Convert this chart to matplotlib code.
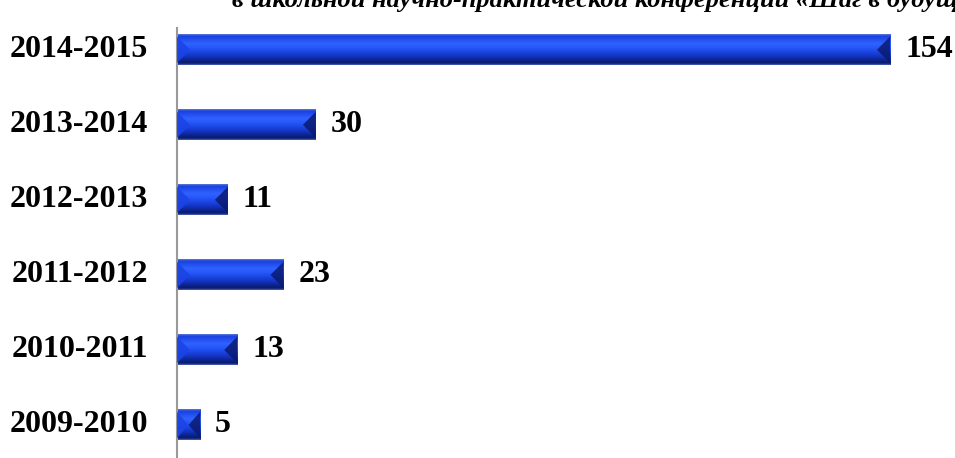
import numpy as np
import matplotlib.pyplot as plt
from matplotlib.colors import LinearSegmentedColormap
from matplotlib.patches import Polygon

years = ['2009-2010', '2010-2011', '2011-2012', '2012-2013', '2013-2014', '2014-2015']
counts = [5, 13, 23, 11, 30, 154]
title = 'в школьной научно-практической конференции «Шаг в будущее»'

plt.rcParams['font.family'] = ['Liberation Serif', 'DejaVu Serif']

fig = plt.figure(figsize=(9.55, 4.58), dpi=100)
W, H = 955, 458
ax = fig.add_axes([177 / W, 0, 1 - 177 / W, 430 / H])
px_per_unit = 713 / 154
ax.set_xlim(0, (W - 177) / px_per_unit)
ax.set_ylim(-0.44, 5.29)

bar_h = 0.41
# vertical shading of the bar face, top to bottom
shade = LinearSegmentedColormap.from_list(
    'shade', [(0.0, '#5a78d8'), (0.06, '#1a3fe0'), (0.3, '#2f62ff'),
              (0.45, '#2556f8'), (0.7, '#1436c8'), (0.88, '#0b2080'),
              (0.95, '#0a1c6c'), (1.0, '#4a62b8')])
grad = np.linspace(0, 1, 80).reshape(-1, 1)  # row 0 is drawn at the top

bev_x = 13 / px_per_unit
for i, v in enumerate(counts):
    y0, y1 = i - bar_h / 2, i + bar_h / 2
    ax.imshow(grad, cmap=shade, aspect='auto', extent=(0, v, y0, y1),
              interpolation='bilinear', zorder=2)
    b = min(bev_x, v / 2)
    # bevelled ends: lighter on the left, darker on the right
    ax.add_patch(Polygon([(0, y0 + 0.03), (b, i), (0, y1 - 0.03)], closed=True,
                         color='#1c44e6', alpha=0.9, lw=0, zorder=3))
    ax.add_patch(Polygon([(v, y0 + 0.03), (v - b, i), (v, y1 - 0.03)], closed=True,
                         color='#0a1a70', alpha=0.85, lw=0, zorder=3))
    ax.text(v + 15 / px_per_unit, i, str(v), ha='left', va='center',
            fontsize=23, fontweight='bold', color='black')
    ax.text(-29 / px_per_unit, i, years[i], ha='right', va='center',
            fontsize=23, fontweight='bold', color='black', clip_on=False)

for s in ['top', 'right', 'bottom']:
    ax.spines[s].set_visible(False)
ax.spines['left'].set_color('#999999')
ax.spines['left'].set_linewidth(1.5)
ax.set_xticks([])
ax.set_yticks([])

fig.text(232 / W, 1 - 7 / H, title, ha='left', va='baseline',
         fontsize=19, fontweight='bold', fontstyle='italic')

fig.savefig('out.png', dpi=100)
